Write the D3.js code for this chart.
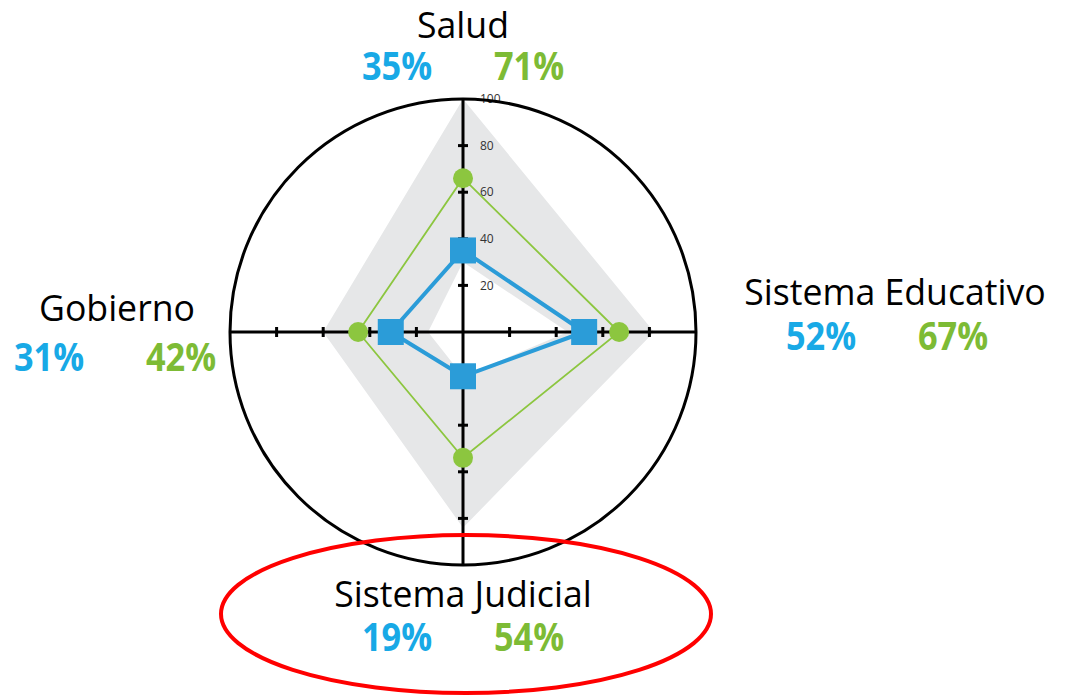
<!DOCTYPE html>
<html>
<head>
<meta charset="utf-8">
<script src="https://cdn.jsdelivr.net/npm/d3@7"></script>
<style>
  body { margin: 0; background: #fff; }
  svg { display: block; }
  text { font-family: "Open Sans", "Noto Sans", sans-serif; }
</style>
</head>
<body>
<svg width="1070" height="697"></svg>
<script>
// categories, clockwise from the top
var categories = ["Salud", "Sistema Educativo", "Sistema Judicial", "Gobierno"];
var blueValues = [35, 52, 19, 31];
var greenValues = [66, 67, 54, 45];
var bandMax = [100, 82, 84, 60];
var bandMin = [30, 45, 19, 15];
var blueLabels = ["35%", "52%", "19%", "31%"];
var greenLabels = ["71%", "67%", "54%", "42%"];
var tickValues = [20, 40, 60, 80, 100];

var svg = d3.select("svg");
var cx = 463, cy = 332, radius = 233;

var r = d3.scaleLinear().domain([0, 100]).range([0, radius]);
var angle = d3.scalePoint().domain(d3.range(categories.length)).range([0, 2 * Math.PI * 3 / 4]);

var g = svg.append("g")
  .attr("transform", "translate(" + cx + "," + cy + ")");

function pt(i, v) { return d3.pointRadial(angle(i), r(v)); }
function ring(vals) {
  return "M" + vals.map(function (v, i) { return pt(i, v).join(","); }).join("L") + "Z";
}

// grey band between min and max
g.append("path")
  .attr("d", ring(bandMax) + ring(bandMin))
  .attr("fill", "#e6e7e8")
  .attr("fill-rule", "evenodd");

// axes
categories.forEach(function (c, i) {
  var end = pt(i, 100);
  g.append("line")
    .attr("x1", 0).attr("y1", 0)
    .attr("x2", end[0]).attr("y2", end[1])
    .attr("stroke", "#000")
    .attr("stroke-width", 3);
  tickValues.slice(0, 4).forEach(function (t) {
    var p = pt(i, t);
    var vert = (i % 2 == 0);
    g.append("line")
      .attr("x1", vert ? p[0] - 5 : p[0])
      .attr("x2", vert ? p[0] + 5 : p[0])
      .attr("y1", vert ? p[1] : p[1] - 5)
      .attr("y2", vert ? p[1] : p[1] + 5)
      .attr("stroke", "#000")
      .attr("stroke-width", 3);
  });
});

// tick labels on the top axis only
g.selectAll(".tlab")
  .data(tickValues)
  .enter().append("text")
  .attr("class", "tlab")
  .attr("x", 17)
  .attr("y", function (d) { return -r(d); })
  .attr("dy", "0.35em")
  .attr("font-size", 12)
  .attr("fill", "#333")
  .text(function (d) { return d; });

// outer circle
g.append("circle")
  .attr("r", radius)
  .attr("fill", "none")
  .attr("stroke", "#000")
  .attr("stroke-width", 3);

// series lines
g.append("path")
  .attr("d", ring(greenValues))
  .attr("fill", "none")
  .attr("stroke", "#8cc63f")
  .attr("stroke-width", 1.8);

g.append("path")
  .attr("d", ring(blueValues))
  .attr("fill", "none")
  .attr("stroke", "#2b9cd8")
  .attr("stroke-width", 4)
  .attr("stroke-linejoin", "round");

// markers
g.selectAll(".gdot")
  .data(greenValues)
  .enter().append("circle")
  .attr("class", "gdot")
  .attr("cx", function (d, i) { return pt(i, d)[0]; })
  .attr("cy", function (d, i) { return pt(i, d)[1]; })
  .attr("r", 10)
  .attr("fill", "#8cc63f");

g.selectAll(".bsq")
  .data(blueValues)
  .enter().append("rect")
  .attr("class", "bsq")
  .attr("x", function (d, i) { return pt(i, d)[0] - 13; })
  .attr("y", function (d, i) { return pt(i, d)[1] - 13; })
  .attr("width", 26)
  .attr("height", 26)
  .attr("fill", "#2b9cd8");

// category labels with percentages
var labelPos = [
  { x: 463, y: 38, py: 80, bx: 397, gx: 529 },
  { x: 895, y: 305, py: 350, bx: 821, gx: 953 },
  { x: 463, y: 607, py: 651, bx: 397, gx: 529 },
  { x: 117, y: 321, py: 371, bx: 49, gx: 181 }
];

// squeeze text a little, to get the narrow look of the original font
function squeeze(sel, k) {
  sel.each(function () {
    var w = this.getComputedTextLength();
    d3.select(this).attr("textLength", w * k).attr("lengthAdjust", "spacingAndGlyphs");
  });
}

labelPos.forEach(function (p, i) {
  svg.append("text")
    .attr("x", p.x).attr("y", p.y)
    .attr("text-anchor", "middle")
    .attr("font-size", 36)
    .attr("fill", "#000")
    .text(categories[i])
    .call(squeeze, 0.99);
  svg.append("text")
    .attr("x", p.bx).attr("y", p.py)
    .attr("text-anchor", "middle")
    .attr("font-size", 39)
    .attr("font-weight", "bold")
    .attr("fill", "#18a9e6")
    .text(blueLabels[i])
    .call(squeeze, 0.88);
  svg.append("text")
    .attr("x", p.gx).attr("y", p.py)
    .attr("text-anchor", "middle")
    .attr("font-size", 39)
    .attr("font-weight", "bold")
    .attr("fill", "#7dbb35")
    .text(greenLabels[i])
    .call(squeeze, 0.88);
});

// red highlight ellipse
svg.append("ellipse")
  .attr("cx", 466).attr("cy", 614)
  .attr("rx", 245).attr("ry", 79)
  .attr("fill", "none")
  .attr("stroke", "#ff0000")
  .attr("stroke-width", 4);
</script>
</body>
</html>
